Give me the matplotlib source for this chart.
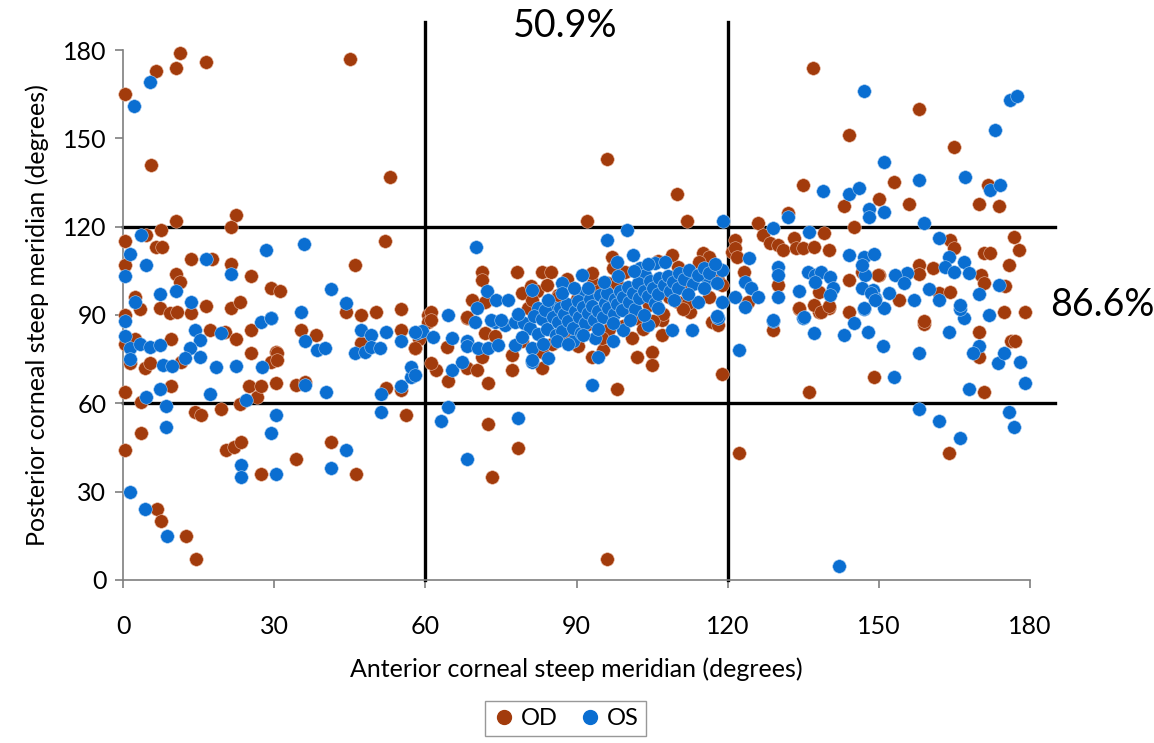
import numpy as np
import matplotlib
matplotlib.use("Agg")
import matplotlib.pyplot as plt
from matplotlib.lines import Line2D

plt.rcParams['font.family'] = ['Lato', 'DejaVu Sans']

# OD points (anterior, posterior), degrees
od = [
    (0.4, 165), (6.5, 173), (10.5, 174), (11.4, 179), (16.4, 176), (5.5, 141), (10.5, 122), (22.4, 124),
    (21.4, 120), (45, 177), (53, 137), (52, 115), (46, 107),
    (4.5, 117), (7.5, 119), (0.4, 115), (6.5, 113), (7.7, 113), (0.4, 107), (13.4, 109), (17.6, 109),
    (21.4, 107.3), (25.4, 103.4), (10.5, 104), (11.3, 101.3), (2.4, 96), (3.4, 92), (7.3, 92.3), (9.3, 90.6),
    (10.7, 91.1), (13.4, 90.8), (16.4, 92.9), (21.4, 92.3), (23.3, 94.5), (29.3, 99), (31.2, 98),
    (0.4, 90), (0.4, 80), (1.4, 73.6), (2.4, 82), (9.5, 82), (17.3, 85), (20.2, 84.3), (22.4, 82), (25.4, 85),
    (25.4, 77), (30.3, 77.6), (29.4, 74.2), (4.4, 72), (5.4, 73.6), (11.5, 74),
    (0.4, 64), (3.5, 60.6), (9.5, 66), (14.3, 57), (15.5, 56), (19.4, 58), (23.3, 59.7), (26.5, 62.3), (25, 66),
    (27.4, 66), (30.3, 66.8),
    (44.2, 91), (47.2, 90), (50.3, 91.1), (55.1, 92), (35.3, 85), (38.2, 83.2), (47.2, 80.4), (55.1, 85), (58, 78.7),
    (58.7, 82), (30.5, 77), (30.5, 74.7), (34.3, 66.2), (36.2, 67.1), (52.1, 65.1), (55.1, 64.5), (56.2, 56),
    (0.4, 44), (3.5, 50), (20.4, 44), (22, 45), (23.4, 47), (27.4, 36), (6.7, 24), (7.5, 20), (12.5, 15), (14.5, 7),
    (41.2, 47), (34.3, 41), (46.2, 36),
    (72.4, 53), (78.3, 44.7), (73.3, 35), (96.1, 7), (98.1, 64.9), (122.2, 43), (136.2, 64), (149, 69), (118.9, 70),
    (164, 43), (170.8, 64),
    (72.4, 67), (77.2, 71.3), (64.4, 67.7), (62.2, 71.3), (61.2, 73.6), (68.3, 72), (70.3, 71.3), (83.2, 72.1),
    (57.9, 78.7), (60.6, 90), (60.6, 87.7), (64.2, 79), (71.2, 75.8), (68.2, 88.9), (71.8, 83.8), (73.8, 82.7),
    (77.1, 76.4), (79.1, 81),
    (71.2, 104.7), (71.2, 101.9), (78.2, 104.7), (83.1, 104.7), (85, 104.7), (79.1, 97.4), (81, 100), (69.2, 95.1),
    (71.8, 94.5), (68.2, 89.4), (61.2, 91.1), (61.2, 88.3), (86.4, 96.8),
    (96, 143), (110, 131), (92, 122), (112, 122),
    (97.1, 109.8), (109, 110.4), (115, 111), (116.3, 109.8), (120.9, 111.5), (99.6, 104.7), (112.5, 104.5),
    (118.1, 101.9), (118.8, 100.2), (111.8, 98.5), (112.5, 91.1), (116.8, 87.7), (93.3, 100.8), (96.3, 100.8),
    (101.9, 88.9), (106.9, 88.3), (110.2, 94.5),
    (102, 75.9), (105, 77.3), (105, 73), (106.9, 83.2), (118, 86.6), (93, 75.9), (95.3, 78.1), (96.3, 84.9),
    (80.3, 92.4), (82.2, 98.1), (84.1, 100.3), (86.4, 96.2), (88.2, 102.3), (90.1, 95.4), (92.3, 86.8),
    (94.2, 98.3), (96.4, 85.2), (98.1, 100.4), (100.3, 91.2), (102.2, 105.1), (104.4, 93.3), (106.1, 108.2),
    (108.3, 96.1), (110.2, 106.3), (112.1, 94.2), (114.3, 108.1), (85.2, 80.3), (88.1, 83.2), (90.2, 79.4),
    (95.1, 82.3), (99.2, 86.1), (103.1, 85.2), (107.2, 90.3), (111.1, 92.2), (116.2, 96.1), (81.1, 95.2),
    (83.2, 77.3), (93.1, 104.2), (97.2, 106.1), (101.1, 82.2), (105.2, 88.1),
    (137, 174), (144, 151), (135, 134), (143, 127), (150, 129.4), (132, 124.5), (126, 121.4), (145, 120),
    (158, 160), (165, 147), (153, 135.3), (171.7, 134), (156, 127.7), (169.8, 127.7), (173.8, 127),
    (129, 84.9), (144, 91.1), (134.1, 92), (138.1, 91.1), (140.1, 92.5),
    (158.9, 87), (169.9, 84.1), (169.9, 75.9), (176.3, 81), (177, 81), (174.9, 91), (179, 91),
    (164.1, 115.5), (165, 112.7), (176.8, 116.4), (177.8, 112), (170.8, 111), (172, 111), (175.8, 107),
    (170.2, 103.6), (170.8, 100.8), (175, 100), (158, 107), (158, 103.8), (160.8, 106.1), (150, 103.6),
    (154, 95.1), (161.9, 97.4), (164.1, 97.9), (159, 87.8),
    (121.4, 115.5), (121.4, 112.7), (121.8, 109.8), (127, 117.2), (128.4, 114.4), (130, 113.8), (131, 112.1),
    (133.1, 116.3), (133.6, 112.7), (135, 112.7), (137.1, 113.2), (140.1, 112.1), (139.1, 117.8), (123.2, 104.7),
    (130, 100.2), (138.2, 97.9), (134.1, 92.3), (137.1, 93.4), (138.6, 91.1), (140.1, 92.9), (144, 101.9),
    (146.6, 104.5), (149.9, 103.6), (124.1, 94.5),
]

# OS points (anterior, posterior), degrees
os_ = [
    (5.4, 169), (2.2, 161), (1.4, 30), (4.4, 24), (8.7, 15), (8.5, 52), (8.5, 59), (4.6, 62), (7.3, 65), (17.3, 63),
    (23.4, 39), (23.4, 35), (30.3, 36), (24.4, 61), (30.3, 56), (29.4, 50), (18.5, 72.5), (22.4, 72.8), (27.5, 72.5),
    (7.9, 73), (9.7, 72.8),
    (0.4, 88), (0.4, 83), (1.4, 78.7), (1.4, 75), (3.4, 80), (5.4, 79), (7.3, 79.8), (14.3, 85), (15.3, 81.5),
    (13.3, 78.7), (12.3, 75.3), (15.3, 75.8), (19.4, 84), (27.4, 87.7), (29.4, 88.9),
    (3.5, 117), (1.4, 110.7), (4.5, 107), (0.4, 103.4), (16.4, 109), (21.4, 104), (28.3, 112), (10.5, 98),
    (7.3, 97), (2.4, 94.5), (13.4, 94.5), (36, 114),
    (41.2, 98.8), (44.2, 94.2), (35.3, 91), (29.3, 89),
    (36.2, 81.2), (38.4, 78.1), (40.1, 78.9), (47.2, 85), (49.2, 83.2), (52.1, 84.1), (55.1, 81.2), (46, 77),
    (48, 77.6), (49.2, 79.2), (51, 78.7), (58.3, 83.8), (59.3, 84.6), (36.2, 66.2), (40.2, 64), (51.1, 63),
    (55.1, 66), (57.1, 69), (57.1, 72.5), (51.1, 57), (44.2, 44), (41.2, 38),
    (64.4, 58.9), (63.2, 54), (78.3, 55), (68.3, 41), (65.3, 71.3), (67.3, 74), (81.2, 74.2), (84.4, 75.3),
    (57.9, 69.6), (57.9, 84.3), (61.6, 82.6), (64.4, 90), (65.3, 82.1), (68.3, 81), (68.3, 79.3), (70.5, 78.7),
    (72.5, 78.7), (74.5, 79.8), (69.8, 87.7), (73.8, 87.7), (75.8, 86.6), (77.8, 87.7), (77.8, 79.8),
    (81.1, 78.7), (81.1, 74.7),
    (70, 113), (87.2, 101), (91, 103.6), (72.2, 98.2), (81.2, 98.5), (74.1, 95.1), (76.3, 95.1), (70.2, 92.3),
    (73.1, 88.3), (75.1, 88.3), (82.4, 92.3), (85.7, 92.3), (91, 96.8),
    (96.1, 115.5), (100, 119), (98.1, 108), (101.3, 110.4), (105.6, 107.6), (107.5, 108.1), (102.6, 105.9),
    (103.6, 103.6), (110.8, 103.6), (112.8, 102.5), (116.1, 101.9), (118.8, 105.3), (108.9, 100.8),
    (118.8, 94.5), (114.1, 94.5), (117.8, 89.4), (119, 122),
    (93.1, 66.2), (109, 84.9), (113, 84.9), (118, 88.9), (99.3, 84.9), (97.3, 81.2), (94.3, 75.9), (89.3, 81),
    (93.6, 82.1), (104.2, 86.6),
    (79.5, 87.2), (80.8, 85.6), (81.6, 89.8), (82.3, 83.4), (83.1, 88.7), (84.2, 85.1), (83.8, 91.6), (85.4, 89.3),
    (85.9, 83.2), (86.3, 87.6), (86.7, 92.4), (87.6, 90.3), (87.2, 84.6), (88.4, 88.1), (88.1, 93.6), (89.3, 85.7),
    (89.6, 91.2), (90.4, 89.4), (90.2, 94.8), (90.8, 83.9), (91.3, 92.6), (91.7, 87.2), (92.2, 90.7), (92.6, 95.3),
    (93.4, 88.4), (93.1, 93.2), (94.3, 91.4), (94.6, 96.7), (95.2, 89.2), (95.7, 94.1), (96.3, 92.5), (96.1, 97.6),
    (97.4, 90.2), (97.6, 95.4), (98.1, 93.7), (98.6, 98.2), (99.3, 96.1), (99.1, 91.6), (100.4, 94.3),
    (100.2, 99.6), (101.2, 97.4), (101.6, 92.1), (102.4, 95.8), (102.1, 100.7), (103.3, 98.2), (104.1, 96.4),
    (104.5, 101.4), (105.2, 99.3), (105.6, 94.2), (106.3, 102.6), (106.2, 97.3), (107.4, 100.1), (108.2, 103.4),
    (108.5, 98.2), (109.2, 101.3), (110.3, 104.2), (110.1, 99.3), (111.3, 102.1), (112.4, 105.2), (113.2, 100.4),
    (114.2, 103.6), (115.3, 106.1), (116.2, 104.4), (117.4, 107.2), (79.2, 82.4), (83.4, 80.3), (86.2, 81.2),
    (88.4, 80.1), (91.3, 83.2), (94.2, 85.3), (97.3, 87.4), (100.6, 88.2), (103.4, 90.1), (106.2, 92.4),
    (109.3, 95.2), (112.1, 97.2), (115.2, 99.3), (92.2, 99.1), (95.4, 101.3), (98.3, 103.2), (101.4, 105.1),
    (104.2, 107.3), (78.3, 90.2), (84.3, 95.1), (87.2, 97.4), (89.4, 99.2),
    (147, 166), (151, 142), (139, 132), (144, 131), (146, 133), (148, 126), (148, 123.4), (151, 125),
    (132, 123.4), (129, 119.6), (176, 163), (177.5, 164.5), (173, 153), (158, 136), (167, 137), (172, 132.5),
    (174, 134), (159, 121.4),
    (142, 4.8), (122.2, 78.1), (129, 88), (137.1, 84), (135, 89.1), (143, 83.2), (145.1, 87.2), (147.9, 84.1),
    (150.9, 79.3), (147, 92), (123.4, 92.8),
    (166, 48.1), (161.9, 54.1), (158, 58.1), (175.8, 57), (176.8, 52.1), (167.9, 64.9), (179, 66.8), (178, 74),
    (173.7, 73.6), (174.9, 77.2), (169.9, 79.3), (168.7, 77.2), (164, 84.1), (158, 77.2), (153, 69),
    (171.8, 90), (166.9, 89), (166, 92.2), (151, 92.5),
    (161.9, 116), (166.9, 108.1), (163.9, 109.8), (163.1, 106.4), (165, 104.7), (167.9, 104.2), (173.8, 100.2),
    (169.8, 97), (155.6, 104.2), (153.2, 103.6), (155, 100.8), (147.2, 103.6), (148.9, 98.5), (149.2, 95.7),
    (152, 97.4), (157, 95.1), (159.9, 98.8), (161.9, 95.1), (166, 93.4),
    (136.2, 118.1), (124.2, 109.3), (123.4, 101.3), (124.7, 99), (126, 96.2), (130, 106.4), (130, 103.6),
    (130, 96.2), (136, 104.7), (137.3, 103.6), (138.6, 104.7), (140.3, 103), (137.3, 101.3), (140.9, 99),
    (140.3, 96.8), (134.1, 98.2), (135.2, 89.4), (144, 110.4), (147, 109.8), (149, 110.6), (146.6, 107),
    (146.6, 99), (148.5, 97.4), (149.2, 95.1), (147, 92.3), (129, 88.3), (117.8, 100.8), (121.4, 96.2),
    (117.8, 89.8),
]

ticks = [0, 30, 60, 90, 120, 150, 180]
cut_lines = [60, 120]
label_top = "50.9%"
label_right = "86.6%"

OD_COLOR = '#A23B0C'
OS_COLOR = '#0A6ED1'

fig = plt.figure(figsize=(11.54, 7.43), dpi=100)
ax = fig.add_axes([0.1066, 0.2194, 0.7860, 0.7133])

odx, ody = np.array(od).T
osx, osy = np.array(os_).T
ax.scatter(odx, ody, s=95, color=OD_COLOR, edgecolors='#E8B8A0', linewidths=0.4, zorder=3, clip_on=False)
ax.scatter(osx, osy, s=95, color=OS_COLOR, edgecolors='#A8CCF0', linewidths=0.4, zorder=4, clip_on=False)

# quadrant lines
for v in cut_lines:
    ax.plot([0, 185], [v, v], color='black', lw=2.4, zorder=2, clip_on=False)
    ax.plot([v, v], [0, 189.5], color='black', lw=2.4, zorder=2, clip_on=False)

ax.set_xlim(0, 180)
ax.set_ylim(0, 180)
ax.set_xticks(ticks)
ax.set_yticks(ticks)
for side in ['top', 'right']:
    ax.spines[side].set_visible(False)
for side in ['left', 'bottom']:
    ax.spines[side].set_color('#7f7f7f')
    ax.spines[side].set_linewidth(1.2)
ax.tick_params(direction='out', length=6, width=1.2, color='#7f7f7f', labelsize=18)
ax.tick_params(axis='x', pad=19)
ax.tick_params(axis='y', pad=6)

ax.set_xlabel("Anterior corneal steep meridian (degrees)", fontsize=18, labelpad=14)
ax.set_ylabel("Posterior corneal steep meridian (degrees)", fontsize=18, labelpad=10)

ax.text(87.7, 188.3, label_top, fontsize=27, ha='center', va='center', clip_on=False)
ax.text(184, 93.4, label_right, fontsize=27, ha='left', va='center', clip_on=False)

handles = [
    Line2D([], [], marker='o', ls='', color=OD_COLOR, markersize=10, label='OD'),
    Line2D([], [], marker='o', ls='', color=OS_COLOR, markersize=10, label='OS'),
]
fig.legend(handles=handles, loc='center', bbox_to_anchor=(0.49, 0.033), ncol=2, frameon=True,
           fancybox=False, edgecolor='#7f7f7f', fontsize=17, handletextpad=0.2, columnspacing=0.9,
           borderpad=0.3, handlelength=1.0)

fig.savefig("out.png", dpi=100)
